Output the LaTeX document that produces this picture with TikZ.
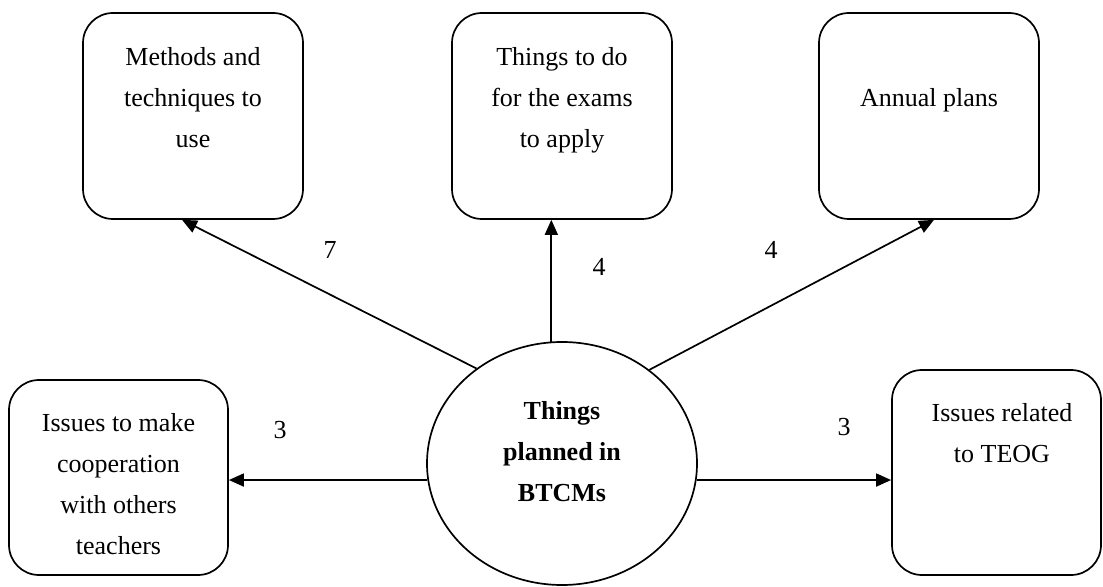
\documentclass[tikz,border=0pt]{standalone}
\usepackage{fontspec}
\setmainfont{Liberation Serif}
\usetikzlibrary{shapes.geometric,arrows.meta,calc}
\begin{document}
\begin{tikzpicture}[x=0.5pt,y=-0.5pt,
  every node/.style={font=\fontsize{13}{20.5}\selectfont},
  box/.style={draw,line width=0.85pt,rounded corners=15pt,inner sep=0pt,minimum width=110pt,minimum height=103pt},
  hub/.style={draw,line width=0.85pt,ellipse,inner sep=0pt,minimum width=135pt,minimum height=121.5pt},
  txt/.style={align=center,inner sep=0pt,anchor=north},
  num/.style={inner sep=0pt,anchor=base},
  conn/.style={line width=0.85pt,-{Triangle[length=7.5pt,width=6.5pt]}}]
\useasboundingbox (0,0) rectangle (1103,587);
% boxes
\node[box] (b1) at (193,116) {};
\node[box] (b2) at (562,116) {};
\node[box] (b3) at (929,116) {};
\node[box,minimum width=109.5pt,minimum height=97.5pt] (b4) at (118.5,477.5) {};
\node[box,minimum width=104.5pt,minimum height=102.5pt] (b5) at (996.5,472.5) {};
\node[hub] (c) at (562,463.5) {};
% texts
\node[txt] (t1) at (193,47) {Methods and\\techniques to\\use};
\node[txt] (t2) at (562,47) {Things to do\\for the exams\\to apply};
\node[txt] (t3) at (929,88) {Annual plans};
\node[txt] (t4) at (118.5,413) {Issues to make\\cooperation\\with others\\teachers};
\node[txt] (t5) at (1002,403) {Issues related\\to TEOG};
\node[txt,font=\fontsize{13}{20.5}\selectfont\bfseries] (t0) at (562,401) {Things\\planned in\\BTCMs};
% connectors
\draw[conn] (c.132.3) -- ($(b1.south)+(-11,0)$);
\draw[conn] (c.95.6) -- (c.95.6 |- b2.south);
\draw[conn] (c.47.7) -- ($(b3.south)+(5,0)$);
\draw[conn] (c.187) -- (c.187 -| b4.east);
\draw[conn] (c.-7) -- (c.-7 -| b5.west);
% labels
\node[num] (l1) at (330,259) {7};
\node[num] (l2) at (599,276) {4};
\node[num] (l3) at (771,259) {4};
\node[num] (l4) at (280,439) {3};
\node[num] (l5) at (844,436) {3};
\end{tikzpicture}
\end{document}
